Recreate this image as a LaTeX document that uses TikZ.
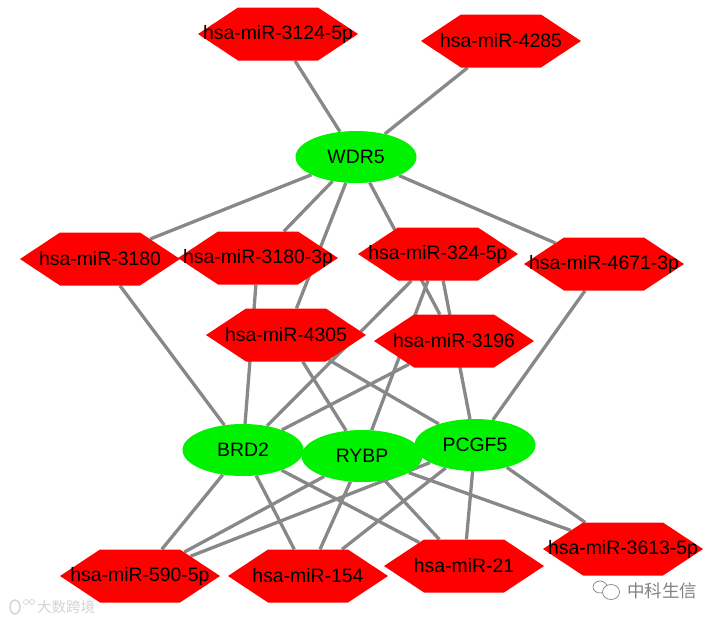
\documentclass[tikz,border=0pt]{standalone}
\usepackage{fontspec}
\setmainfont{Liberation Sans}
\newfontfamily\cjkfont{Noto Sans CJK SC}
\usetikzlibrary{shapes.geometric, shapes.symbols, backgrounds}
\definecolor{mirnacol}{RGB}{255, 0, 0}
\definecolor{genecol}{RGB}{0, 242, 0}
\definecolor{edgecol}{RGB}{136, 136, 136}
\definecolor{markcol}{RGB}{130, 130, 130}
\newcommand{\hexlabel}[1]{\makebox[0pt]{#1}}
\begin{document}
\begin{tikzpicture}[
    x=1pt, y=-1pt,
    mirna/.style = {signal, signal to=east and west, signal pointer angle=67, fill=mirnacol,
                    minimum width=160pt, minimum height=53pt, inner sep=0pt,
                    font=\fontsize{19.4}{21}\selectfont},
    gene/.style = {ellipse, fill=genecol, minimum width=121pt, minimum height=52pt, inner sep=0pt,
                   font=\fontsize{19.4}{21}\selectfont},
    edge/.style = {edgecol, line width=3.3pt},
    wmark/.style = {font=\cjkfont\fontsize{17.5}{19}\selectfont, text=markcol, inner sep=0pt},
    markline/.style = {markcol, line width=0.7pt}
]
    \useasboundingbox (0,0) rectangle (722,622);

    % TOP MIRNAS
    \node[mirna] (mir3124) at (278,34) {\hexlabel{hsa-miR-3124-5p}};
    \node[mirna] (mir4285) at (501,41) {\hexlabel{hsa-miR-4285}};

    % HUB
    \node[gene] (wdr5) at (356,157) {WDR5};

    % MIDDLE MIRNAS
    \node[mirna] (mir3180) at (100,259) {\hexlabel{hsa-miR-3180}};
    \node[mirna] (mir31803p) at (258,258) {\hexlabel{hsa-miR-3180-3p}};
    \node[mirna] (mir324) at (438,254) {\hexlabel{hsa-miR-324-5p}};
    \node[mirna] (mir4671) at (604,264) {\hexlabel{hsa-miR-4671-3p}};
    \node[mirna] (mir4305) at (286,335) {\hexlabel{hsa-miR-4305}};
    \node[mirna] (mir3196) at (454,341) {\hexlabel{hsa-miR-3196}};

    % GENES
    \node[gene] (brd2) at (243,450) {BRD2};
    \node[gene] (rybp) at (362,456) {RYBP};
    \node[gene] (pcgf5) at (475,445) {PCGF5};

    % BOTTOM MIRNAS
    \node[mirna] (mir590) at (140,576) {\hexlabel{hsa-miR-590-5p}};
    \node[mirna] (mir154) at (308,576) {\hexlabel{hsa-miR-154}};
    \node[mirna] (mir21) at (464,566) {\hexlabel{hsa-miR-21}};
    \node[mirna] (mir3613) at (623,549) {\hexlabel{hsa-miR-3613-5p}};

    % WATERMARKS
    \node[wmark] (markright) at (662,591) {中科生信};
    \node[wmark, font=\cjkfont\fontsize{14.5}{16}\selectfont, text=markcol!35] (markleft) at (66,607) {大数跨境};
    \draw[markline] (600,587) ellipse (7pt and 6pt);
    \draw[markline, fill=white] (611,592) ellipse (8.5pt and 7.5pt);
    \draw[markline, markcol!35, line width=1.4pt] (15,607) ellipse (5pt and 7pt);
    \draw[markline, markcol!35] (26,602) circle (2.5pt);
    \draw[markline, markcol!35] (32,602) circle (2.5pt);

    \begin{scope}[on background layer]
        % WDR5 edges
        \draw[edge] (wdr5) -- (mir3124);
        \draw[edge] (wdr5) -- (mir4285);
        \draw[edge] (wdr5) -- (mir3180);
        \draw[edge] (wdr5) -- (mir31803p);
        \draw[edge] (wdr5) -- (mir4305);
        \draw[edge] (wdr5) -- (mir3196);
        \draw[edge] (wdr5) -- (mir4671);

        % BRD2 edges
        \draw[edge] (mir3180) -- (brd2);
        \draw[edge] (mir31803p) -- (brd2);
        \draw[edge] (mir324) -- (brd2);
        \draw[edge] (mir3196) -- (brd2);
        \draw[edge] (brd2) -- (mir590);
        \draw[edge] (brd2) -- (mir154);
        \draw[edge] (brd2) -- (mir21);

        % RYBP edges
        \draw[edge] (mir324) -- (rybp);
        \draw[edge] (mir4305) -- (rybp);
        \draw[edge] (rybp) -- (mir590);
        \draw[edge] (rybp) -- (mir154);
        \draw[edge] (rybp) -- (mir21);
        \draw[edge] (rybp) -- (mir3613);

        % PCGF5 edges
        \draw[edge] (mir324) -- (pcgf5);
        \draw[edge] (mir4305) -- (pcgf5);
        \draw[edge] (mir4671) -- (pcgf5);
        \draw[edge] (pcgf5) -- (mir590);
        \draw[edge] (pcgf5) -- (mir154);
        \draw[edge] (pcgf5) -- (mir21);
        \draw[edge] (pcgf5) -- (mir3613);
    \end{scope}
\end{tikzpicture}
\end{document}
